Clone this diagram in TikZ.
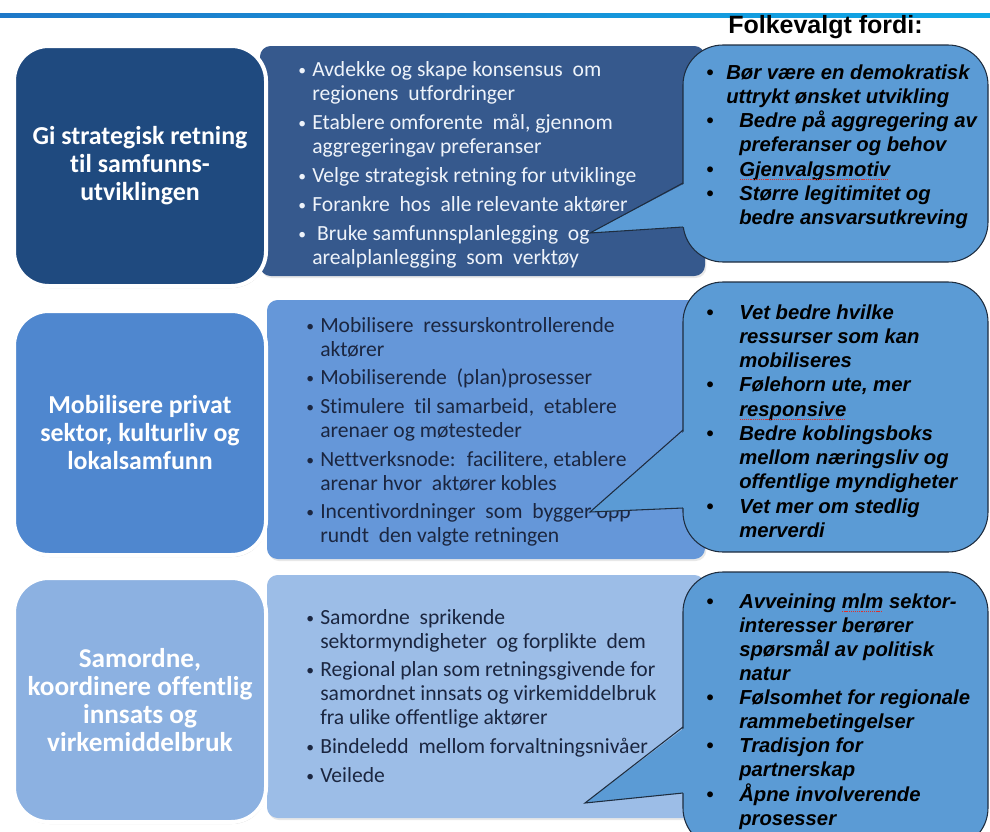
\documentclass[tikz,border=0pt]{standalone}
\usepackage{fontspec}
\usepackage{graphicx}
\setmainfont{Carlito}[Ligatures={NoCommon,NoContextual}]
\newfontfamily\arialfont{Liberation Sans}
\usetikzlibrary{shadows}
\newlength\px
\setlength\px{0.75pt}
\definecolor{navy}{HTML}{1F4A7F}
\definecolor{slate}{HTML}{36598D}
\definecolor{midblue}{HTML}{4F87CF}
\definecolor{midpanel}{HTML}{6597D9}
\definecolor{paleblue}{HTML}{8CB1E1}
\definecolor{palepanel}{HTML}{9CBDE7}
\definecolor{callfill}{HTML}{5B9BD5}
\definecolor{calledge}{HTML}{1E2D3F}
\definecolor{darktext}{HTML}{1B2640}
\definecolor{lighttext}{HTML}{EEF3FA}
\definecolor{lineleft}{HTML}{1E78C8}
\definecolor{lineright}{HTML}{10A8E6}
\definecolor{spellred}{HTML}{E0302A}
\newcommand\blt[1]{\makebox[#1][l]{\textbullet}}
\newcommand\pblt[1]{\makebox[#1][l]{\raisebox{0.6pt}{\scalebox{0.72}{\textbullet}}}}
\newcommand\spell[1]{\setbox0\hbox{#1}\rlap{\usebox0}%
  \raisebox{-3pt}{\color{spellred}\leaders\hbox to 1.6pt{\hss\rule{0.9pt}{0.9pt}\hss}\hskip\wd0}}
\tikzset{
  leftbox/.style   = {rectangle, rounded corners=26pt, draw=white, line width=3pt,
                      minimum width=252\px, text=white, align=center,
                      font=\fontsize{19.4}{21}\selectfont\bfseries,
                      drop shadow={opacity=0.3, shadow xshift=0.6pt, shadow yshift=-1.5pt}},
  panel/.style     = {rectangle, rounded corners=8pt,
                      drop shadow={opacity=0.18, shadow xshift=1pt, shadow yshift=-1.5pt}},
  callbox/.style   = {rectangle, rounded corners=30pt, draw=calledge, line width=0.8pt,
                      fill=callfill, minimum width=305\px},
  pointer/.style   = {draw=calledge, line width=0.8pt, line join=miter},
  paneltext/.style = {anchor=base west, inner sep=0pt, font=\fontsize{16.2}{18}\selectfont},
  calltext/.style  = {anchor=base west, inner sep=0pt, text=black,
                      font=\arialfont\bfseries\itshape\fontsize{15.2}{18.2}\selectfont},
  titletext/.style = {anchor=base west, inner sep=0pt,
                      font=\arialfont\bfseries\fontsize{18.75}{22}\selectfont},
}

\begin{document}
\begin{tikzpicture}[x=0.75pt, y=-0.75pt]
  \useasboundingbox (0,0) rectangle (990,832);
  \clip (0,0) rectangle (990,832);
  \shade[left color=lineleft, right color=lineright] (0,13) rectangle (990,17);
  \node[titletext] (title) at (728,33) {Folkevalgt fordi:};

  \node[panel, fill=slate, minimum width=445\px, minimum height=230\px] (p1) at (482.5,161) {};
  \node[panel, fill=midpanel, minimum width=438\px, minimum height=259\px] (p2) at (486,429.5) {};
  \node[panel, fill=palepanel, minimum width=438\px, minimum height=243\px] (p3) at (486,696.5) {};

  \node[leftbox, fill=navy, minimum height=240\px] (b1) at (140,166)
    {Gi strategisk retning\\til samfunns-\\utviklingen};
  \node[leftbox, fill=midblue, minimum height=244\px] (b2) at (140,433)
    {Mobilisere privat\\sektor, kulturliv og\\lokalsamfunn};
  \node[leftbox, fill=paleblue, minimum height=244\px, font=\fontsize{20.4}{21}\selectfont\bfseries] (b3) at (140,700)
    {Samordne,\\koordinere offentlig\\innsats og\\virkemiddelbruk};

  \node[paneltext, text=lighttext] (t1) at (298,76) {\begin{tabular}[t]{@{}l@{}}
    \pblt{14\px}Avdekke og skape konsensus \ om\\
    \hspace*{14\px}regionens \ utfordringer\\[3.75pt]
    \pblt{14\px}Etablere omforente \ mål, gjennom\\
    \hspace*{14\px}aggregeringav preferanser\\[3.75pt]
    \pblt{14\px}Velge strategisk retning for utviklinge\\[3.75pt]
    \pblt{14\px}Forankre \ hos \ alle relevante aktører\\[3.75pt]
    \pblt{14\px}\ Bruke samfunnsplanlegging \ og\\
    \hspace*{14\px}arealplanlegging \ som \ verktøy
  \end{tabular}};
  \node[paneltext, text=darktext] (t2) at (306,332) {\begin{tabular}[t]{@{}l@{}}
    \pblt{14\px}Mobilisere \ ressurskontrollerende\\
    \hspace*{14\px}aktører\\[3.5pt]
    \pblt{14\px}Mobiliserende \ (plan)prosesser\\[3.5pt]
    \pblt{14\px}Stimulere \ til samarbeid, \ etablere\\
    \hspace*{14\px}arenaer og møtesteder\\[3.5pt]
    \pblt{14\px}Nettverksnode: \ facilitere, etablere\\
    \hspace*{14\px}arenar hvor \ aktører kobles\\[3.5pt]
    \pblt{14\px}Incentivordninger \ som \ bygger opp\\
    \hspace*{14\px}rundt \ den valgte retningen
  \end{tabular}};
  \node[paneltext, text=darktext] (t3) at (306,624) {\begin{tabular}[t]{@{}l@{}}
    \pblt{14\px}Samordne \ sprikende\\
    \hspace*{14\px}sektormyndigheter \ og forplikte \ dem\\[3.5pt]
    \pblt{14\px}Regional plan som retningsgivende for\\
    \hspace*{14\px}samordnet innsats og virkemiddelbruk\\
    \hspace*{14\px}fra ulike offentlige aktører\\[3.5pt]
    \pblt{14\px}Bindeledd \ mellom forvaltningsnivåer\\[3.5pt]
    \pblt{14\px}Veilede
  \end{tabular}};

  % callouts
  \node[callbox, minimum height=217\px] (c1) at (835.5,153.5) {};
  \coordinate (c1top) at (683,183);
  \coordinate (c1bot) at (683,227);
  \coordinate (c1tip) at (590,233);
  \fill[callfill] (c1tip) -- ([xshift=2pt]c1top) -- ([xshift=2pt]c1bot) -- cycle;
  \draw[pointer] (c1top) -- (c1tip) -- (c1bot);

  \node[callbox, minimum height=270\px] (c2) at (835.5,417) {};
  \coordinate (c2top) at (683,430);
  \coordinate (c2bot) at (683,508);
  \coordinate (c2tip) at (590,512);
  \fill[callfill] (c2tip) -- ([xshift=2pt]c2top) -- ([xshift=2pt]c2bot) -- cycle;
  \draw[pointer] (c2top) -- (c2tip) -- (c2bot);

  \node[callbox, minimum height=276\px] (c3) at (835.5,710) {};
  \coordinate (c3top) at (683,727);
  \coordinate (c3bot) at (683,793);
  \coordinate (c3tip) at (585,803);
  \fill[callfill] (c3tip) -- ([xshift=2pt]c3top) -- ([xshift=2pt]c3bot) -- cycle;
  \draw[pointer] (c3top) -- (c3tip) -- (c3bot);

  \node[calltext] (f1) at (706,79) {\begin{tabular}[t]{@{}l@{}}
    \blt{20\px}Bør være en demokratisk\\
    \hspace*{20\px}uttrykt ønsket utvikling\\
    \blt{33\px}Bedre på aggregering av\\
    \hspace*{33\px}preferanser og behov\\
    \blt{33\px}\spell{Gjenvalgsmotiv}\\
    \blt{33\px}Større legitimitet og\\
    \hspace*{33\px}bedre ansvarsutkreving
  \end{tabular}};
  \node[calltext] (f2) at (706,319) {\begin{tabular}[t]{@{}l@{}}
    \blt{33\px}Vet bedre hvilke\\
    \hspace*{33\px}ressurser som kan\\
    \hspace*{33\px}mobiliseres\\
    \blt{33\px}Følehorn ute, mer\\
    \hspace*{33\px}\spell{responsive}\\
    \blt{33\px}Bedre koblingsboks\\
    \hspace*{33\px}mellom næringsliv og\\
    \hspace*{33\px}offentlige myndigheter\\
    \blt{33\px}Vet mer om stedlig\\
    \hspace*{33\px}merverdi
  \end{tabular}};
  \node[calltext, font=\arialfont\bfseries\itshape\fontsize{15.2}{18.05}\selectfont] (f3) at (706,608) {\begin{tabular}[t]{@{}l@{}}
    \blt{33\px}Avveining \spell{mlm} sektor-\\
    \hspace*{33\px}interesser berører\\
    \hspace*{33\px}spørsmål av politisk\\
    \hspace*{33\px}natur\\
    \blt{33\px}Følsomhet for regionale\\
    \hspace*{33\px}rammebetingelser\\
    \blt{33\px}Tradisjon for\\
    \hspace*{33\px}partnerskap\\
    \blt{33\px}Åpne involverende\\
    \hspace*{33\px}prosesser
  \end{tabular}};
\end{tikzpicture}
\end{document}
